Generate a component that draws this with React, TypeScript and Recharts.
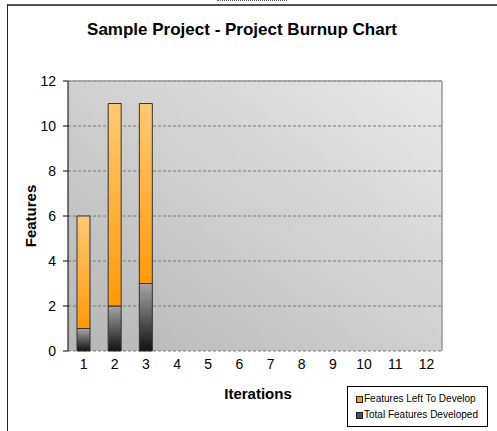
import React from "react";
import {
  Bar,
  BarChart,
  CartesianGrid,
  Label,
  Legend,
  ReferenceLine,
  XAxis,
  YAxis,
} from "recharts";

const iterations = ["1", "2", "3", "4", "5", "6", "7", "8", "9", "10", "11", "12"];
const totalDeveloped = [1, 2, 3, null, null, null, null, null, null, null, null, null];
const leftToDevelop = [5, 9, 8, null, null, null, null, null, null, null, null, null];
const yTicks = [0, 2, 4, 6, 8, 10, 12];

const SWATCH: Record<string, string> = {
  "Features Left To Develop": "#ff9a10",
  "Total Features Developed": "#505050",
};

const data = iterations.map((it, i) => ({
  iteration: it,
  idx: i + 1,
  developed: totalDeveloped[i],
  left: leftToDevelop[i],
}));

// category boundaries, where the x tick marks sit
const boundaries = [...iterations.map((_, i) => i + 0.5), iterations.length + 0.5];

const FONT = "'Liberation Sans', Arial, sans-serif";

function LegendBox({ payload }: any) {
  const items = [...(payload ?? [])].sort((a: any, b: any) =>
    String(a.value).localeCompare(String(b.value))
  );
  return (
    <div
      style={{
        border: "1px solid #000",
        background: "#fff",
        width: 141,
        height: 41,
        boxSizing: "border-box",
        padding: "4px 0 0 8px",
        fontFamily: FONT,
        fontSize: 10,
        color: "#000",
        lineHeight: "16px",
      }}
    >
      {items.map((p: any) => (
        <div key={p.value} style={{ display: "flex", alignItems: "center", whiteSpace: "nowrap" }}>
          <span
            style={{
              display: "inline-block",
              width: 5,
              height: 5,
              border: "1px solid #222",
              background: SWATCH[p.value],
              marginRight: 1,
            }}
          />
          {p.value}
        </div>
      ))}
    </div>
  );
}

export default function App() {
  return (
    <div
      style={{
        position: "absolute",
        left: 0,
        top: 0,
        width: 497,
        height: 431,
        overflow: "hidden",
        background: "#fff",
        fontFamily: FONT,
      }}
    >
      <div
        style={{
          position: "absolute",
          left: 7,
          top: 4,
          width: 540,
          height: 480,
          borderLeft: "1px solid #222",
          borderTop: "2px solid #555",
        }}
      />
      <div
        style={{
          position: "absolute",
          left: 217,
          top: 0,
          width: 70,
          height: 0,
          borderTop: "1px dotted #555",
        }}
      />
      <div
        style={{
          position: "absolute",
          left: 0,
          top: 20,
          width: 484,
          textAlign: "center",
          fontWeight: "bold",
          fontSize: 17,
          color: "#000",
        }}
      >
        Sample Project - Project Burnup Chart
      </div>
      <BarChart
        width={497}
        height={431}
        data={data}
        margin={{ top: 81, right: 55, bottom: 0, left: 0 }}
        barSize={13}
        style={{ position: "absolute", left: 0, top: 0 }}
      >
        <defs>
          <linearGradient id="plotBg" x1="0" y1="1" x2="1" y2="0">
            <stop offset="0%" stopColor="#b6b6b6" />
            <stop offset="100%" stopColor="#e9e9e9" />
          </linearGradient>
          <linearGradient id="orangeFill" x1="0" y1="0" x2="0" y2="1">
            <stop offset="0%" stopColor="#ffc874" />
            <stop offset="100%" stopColor="#ff9a0a" />
          </linearGradient>
          <linearGradient id="grayFill" x1="0" y1="0" x2="0" y2="1">
            <stop offset="0%" stopColor="#a6a6a6" />
            <stop offset="100%" stopColor="#111111" />
          </linearGradient>
        </defs>
        <CartesianGrid
          vertical={false}
          stroke="#7a7a7a"
          strokeDasharray="3 2"
          fill="url(#plotBg)"
          fillOpacity={1}
        />
        <XAxis
          xAxisId="bounds"
          type="number"
          dataKey="idx"
          domain={[0.5, 12.5]}
          allowDataOverflow
          ticks={boundaries}
          tickFormatter={() => ""}
          tickSize={5}
          height={0}
          axisLine={{ stroke: "#000" }}
          tickLine={{ stroke: "#000" }}
        />
        <XAxis
          xAxisId="cat"
          dataKey="iteration"
          axisLine={false}
          tickLine={false}
          tickSize={5}
          tickMargin={3}
          height={37}
          interval={0}
          tick={{ fill: "#000", fontSize: 14, fontFamily: FONT }}
        >
          <Label
            value="Iterations"
            position="bottom"
            offset={0}
            dx={3}
            style={{ fill: "#000", fontSize: 15, fontWeight: "bold", fontFamily: FONT }}
          />
        </XAxis>
        <YAxis
          domain={[0, 12]}
          ticks={yTicks}
          width={68}
          tickSize={5}
          tickMargin={7}
          axisLine={{ stroke: "#000" }}
          tickLine={{ stroke: "#000" }}
          tick={{ fill: "#000", fontSize: 14, fontFamily: FONT }}
        >
          <Label
            value="Features"
            angle={-90}
            position="center"
            dx={-3}
            style={{ fill: "#000", fontSize: 15, fontWeight: "bold", fontFamily: FONT }}
          />
        </YAxis>
        <ReferenceLine y={12} xAxisId="cat" stroke="#9a9a9a" strokeWidth={1.5} />
        <ReferenceLine x={12.5} xAxisId="bounds" stroke="#9a9a9a" strokeWidth={1.5} />
        <Bar
          xAxisId="cat"
          dataKey="developed"
          name="Total Features Developed"
          stackId="a"
          fill="url(#grayFill)"
          stroke="#333"
          strokeWidth={1}
          isAnimationActive={false}
        />
        <Bar
          xAxisId="cat"
          dataKey="left"
          name="Features Left To Develop"
          stackId="a"
          fill="url(#orangeFill)"
          stroke="#333"
          strokeWidth={1}
          isAnimationActive={false}
        />
        <Legend
          verticalAlign="bottom"
          align="left"
          content={<LegendBox />}
          wrapperStyle={{ left: 347, bottom: 2, width: 141, height: 43 }}
        />
      </BarChart>
    </div>
  );
}
